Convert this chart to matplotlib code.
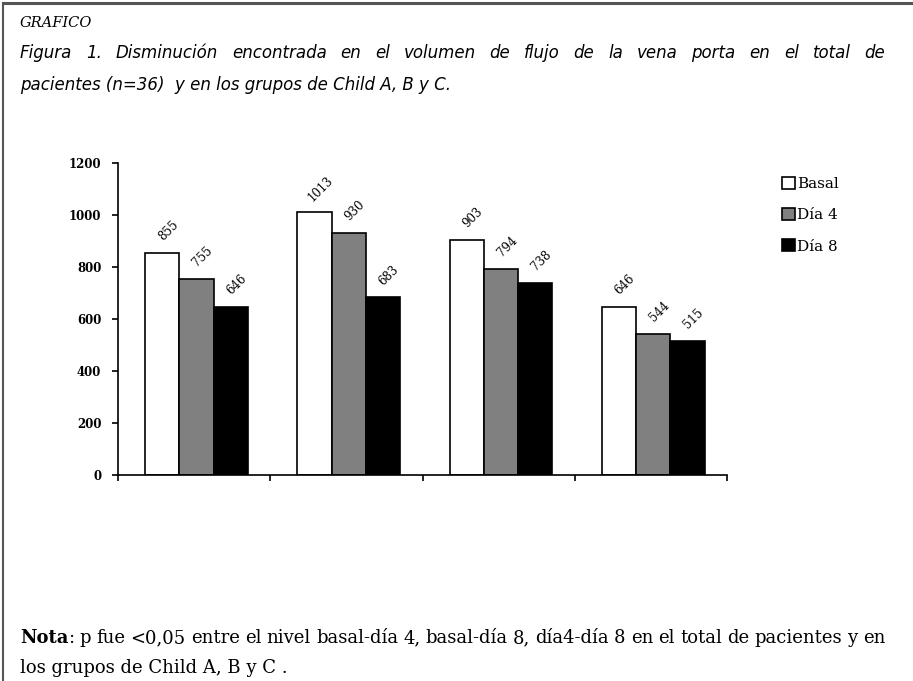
"""Portal vein flow volume by group: Basal, Day 4, Day 8 (Child A/B/C)."""

import matplotlib
matplotlib.use("Agg")
import matplotlib.pyplot as plt
from matplotlib.lines import Line2D
import numpy as np

groups = ["Total", "Child A", "Child B", "Child C"]
series_names = ["Basal", "Día 4", "Día 8"]
basal = [855, 1013, 903, 646]
dia4 = [755, 930, 794, 544]
dia8 = [646, 683, 738, 515]
value_labels = [["855", "1013", "903", "646"],
                ["755", "930", "794", "544"],
                ["646", "683", "738", "515"]]
yticks = [0, 200, 400, 600, 800, 1000, 1200]

W, H = 913, 681
SERIF = "DejaVu Serif"
SANS = "DejaVu Sans"
X0 = 20


def justify(fig, words, x0, x1, y, **kw):
    """Place words (each a list of (text, style) segments) across x0..x1 px."""
    renderer = fig.canvas.get_renderer()
    placed = []
    for segs in words:
        items = []
        for txt, extra in segs:
            t = fig.text(0, y / H, txt, va="center", ha="left", **{**kw, **extra})
            items.append((t, t.get_window_extent(renderer).width))
        placed.append(items)
    total = sum(w for items in placed for _, w in items)
    gap = (x1 - x0 - total) / (len(placed) - 1)
    x = x0
    for items in placed:
        for t, wd in items:
            t.set_x(x / W)
            x += wd
        x += gap


def plain(s):
    return [[(w, {})] for w in s.split()]


fig = plt.figure(figsize=(W / 100, H / 100), dpi=100)
ax = fig.add_axes([118 / W, 1 - 475 / H, (727 - 118) / W, (475 - 163) / H])

width = 0.225
x = np.arange(len(groups)) + 0.515
colors = ["white", "#808080", "black"]
for j, (vals, name, c) in enumerate(zip([basal, dia4, dia8], series_names, colors)):
    pos = x + (j - 1) * width
    ax.bar(pos, vals, width, color=c, edgecolor="black", linewidth=1.2, label=name)
    for xi, v, lab in zip(pos, vals, value_labels[j]):
        ax.annotate(lab, (xi, v), xytext=(4.5, 16), textcoords="offset points",
                    ha="center", va="center", rotation=45, fontsize=8.5,
                    family=SERIF)

ax.set_xlim(0, 4)
ax.set_ylim(0, 1200)
ax.set_xticks(range(5))
ax.set_xticklabels([])
ax.set_yticks(yticks)
ax.set_yticklabels([str(t) for t in yticks], family=SERIF, fontweight="bold", fontsize=8.5)
ax.tick_params(direction="out", length=4, width=1.2, pad=8)
for s in ["top", "right"]:
    ax.spines[s].set_visible(False)
for s in ["left", "bottom"]:
    ax.spines[s].set_linewidth(1.2)

fig.legend(loc="upper left", bbox_to_anchor=(768 / W, 1 - 163 / H), frameon=False,
           handlelength=0.85, handleheight=0.85, handletextpad=0.15, labelspacing=1.1,
           prop={"family": SERIF, "size": 11})

# page border (top and left)
fig.add_artist(Line2D([3 / W, 1], [1 - 3 / H, 1 - 3 / H], color="#555555", lw=2.2))
fig.add_artist(Line2D([3 / W, 3 / W], [0, 1 - 3 / H], color="#555555", lw=1.5))

fig.text(X0 / W, 1 - 23 / H, "GRAFICO", family=SERIF, style="italic", fontsize=10.5,
         va="center", ha="left")
justify(fig, plain("Figura 1. Disminución encontrada en el volumen de flujo de la vena porta en el total de"),
        X0, 885, H - 53, family=SANS, style="italic", fontsize=12)
fig.text(X0 / W, 1 - 85 / H, "pacientes (n=36)  y en los grupos de Child A, B y C.",
         family=SANS, style="italic", fontsize=12, va="center", ha="left")

note_words = [[("Nota", {"fontweight": "bold"}), (":", {})]] + \
    plain("p fue <0,05 entre el nivel basal-día 4, basal-día 8, día4-día 8 en el total de pacientes y en")
justify(fig, note_words, X0, 885, H - 638, family=SERIF, fontsize=13)
fig.text(X0 / W, 1 - 668 / H, "los grupos de Child A, B y C .", family=SERIF, fontsize=13,
         va="center", ha="left")

fig.savefig("out.png", dpi=100)
